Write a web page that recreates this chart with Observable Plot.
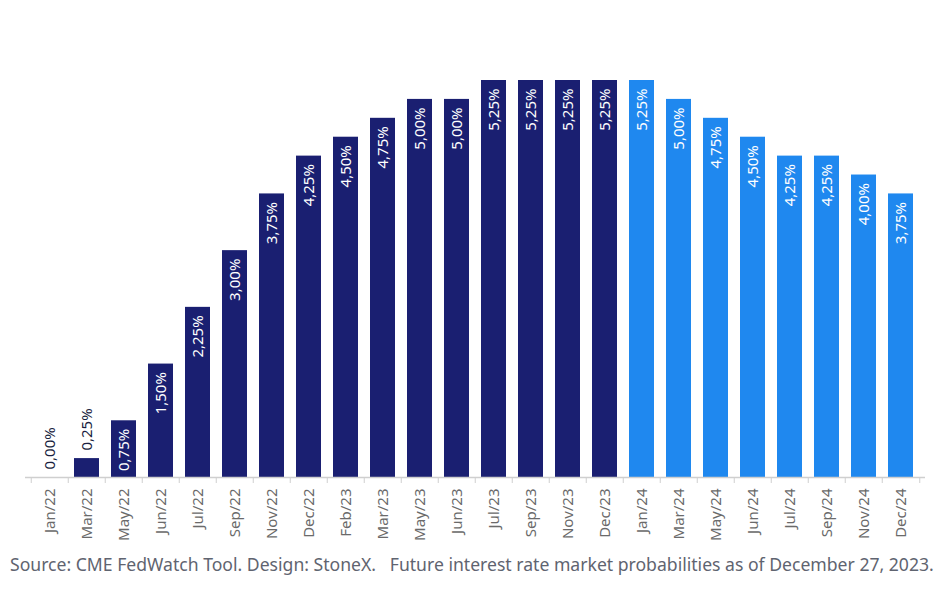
<!DOCTYPE html>
<html>
<head>
<meta charset="utf-8">
<script src="https://cdn.jsdelivr.net/npm/d3@7"></script>
<script src="https://cdn.jsdelivr.net/npm/@observablehq/plot@0.6"></script>
<style>
  body { margin: 0; background: #fff; font-family: "Noto Sans", sans-serif; }
  #chart { width: 946px; height: 552px; }
  .caption { margin: 0; padding-left: 10px; font-size: 17.6px; color: #5f6470; font-family: "Noto Sans", sans-serif; white-space: nowrap; }
</style>
</head>
<body>
<div id="chart"></div>
<p class="caption">Source: CME FedWatch Tool. Design: StoneX.&nbsp;&nbsp;&nbsp;Future interest rate market probabilities as of December 27, 2023.</p>
<script>
const months = ["Jan/22","Mar/22","May/22","Jun/22","Jul/22","Sep/22","Nov/22","Dec/22","Feb/23","Mar/23","May/23","Jun/23","Jul/23","Sep/23","Nov/23","Dec/23","Jan/24","Mar/24","May/24","Jun/24","Jul/24","Sep/24","Nov/24","Dec/24"];
const rates = [0.00,0.25,0.75,1.50,2.25,3.00,3.75,4.25,4.50,4.75,5.00,5.00,5.25,5.25,5.25,5.25,5.25,5.00,4.75,4.50,4.25,4.25,4.00,3.75];
const kinds = ["Actual","Actual","Actual","Actual","Actual","Actual","Actual","Actual","Actual","Actual","Actual","Actual","Actual","Actual","Actual","Actual","Projected","Projected","Projected","Projected","Projected","Projected","Projected","Projected"];
const kindNames = ["Actual","Projected"];
const kindColors = ["#1a1f71","#1f88ef"];

const data = months.map((m, i) => ({month: m, rate: rates[i], kind: kinds[i]}));
const fmt = v => v.toFixed(2).replace(".", ",") + "%";

const W = 946, H = 548, ML = 25, MR = 21;
const step = (W - ML - MR) / months.length;

const chart = Plot.plot({
  width: W,
  height: H,
  marginLeft: ML,
  marginRight: MR,
  marginTop: 80,
  marginBottom: H - 477,
  style: {fontFamily: "'Noto Sans', sans-serif", background: "#fff"},
  x: {domain: months, paddingInner: 0.333, paddingOuter: 0.1665, label: null},
  y: {domain: [0, 5.25], axis: null},
  color: {domain: kindNames, range: kindColors},
  marks: [
    Plot.barY(data, {x: "month", y: "rate", fill: "kind"}),
    Plot.ruleY([0], {stroke: "#cfcfcf", strokeWidth: 1.5}),
    Plot.axisX({tickSize: 6, stroke: "#cfcfcf", tickFormat: () => "", dx: -step / 2, label: null}),
    Plot.axisX([months[months.length - 1]], {tickSize: 6, stroke: "#cfcfcf", tickFormat: () => "", dx: step / 2, label: null}),
    Plot.axisX({tickSize: 0, tickPadding: 11, tickRotate: -90, fontSize: 15, fill: "#6a6a6a", label: null}),
    Plot.text(data.filter(d => d.rate >= 0.5), {x: "month", y: "rate", text: d => fmt(d.rate), rotate: -90, textAnchor: "end", dy: 8, fill: "white", fontSize: 15}),
    Plot.text(data.filter(d => d.rate < 0.5), {x: "month", y: "rate", text: d => fmt(d.rate), rotate: -90, textAnchor: "start", dy: -8, fill: "#1a1f40", fontSize: 15})
  ]
});
document.getElementById("chart").appendChild(chart);
</script>
</body>
</html>
